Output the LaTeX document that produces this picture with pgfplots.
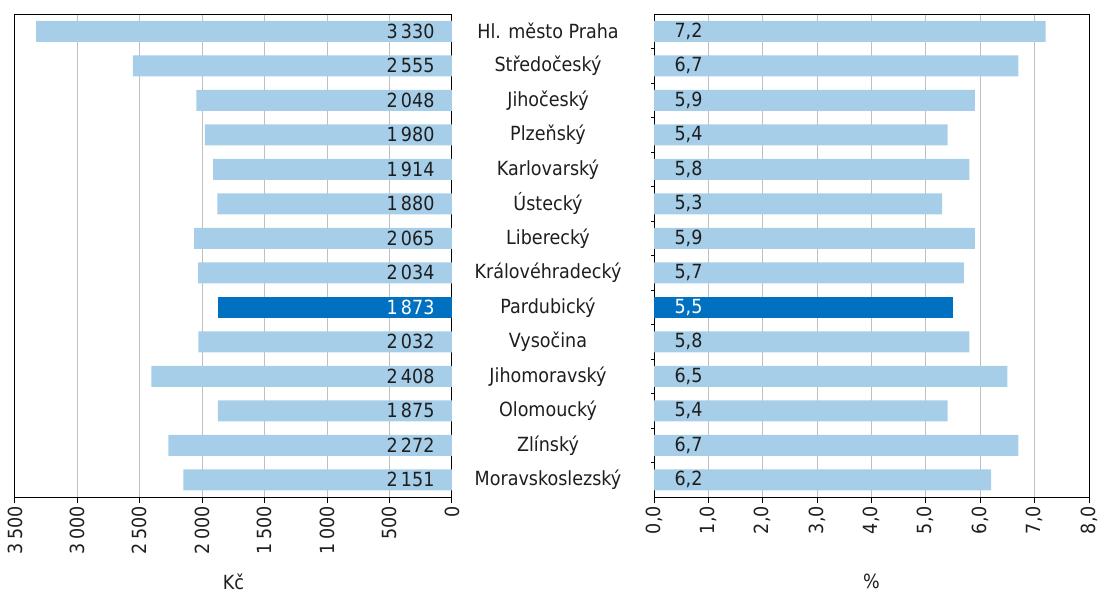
\documentclass[border=0pt]{standalone}
\usepackage{fontspec}
\setmainfont{DejaVu Sans Condensed}
\usepackage{pgfplots}
\pgfplotsset{compat=1.18}
\usepackage{pgfplotstable}
\definecolor{lb}{RGB}{166,206,233}
\definecolor{db}{RGB}{0,112,192}
\definecolor{gr}{RGB}{191,191,191}
\definecolor{tx}{RGB}{30,30,30}

\pgfplotstableread{
y kc pct
0 3330 7.2
1 2555 6.7
2 2048 5.9
3 1980 5.4
4 1914 5.8
5 1880 5.3
6 2065 5.9
7 2034 5.7
9 2032 5.8
10 2408 6.5
11 1875 5.4
12 2272 6.7
13 2151 6.2
}\data
\pgfplotstableread{
y kc pct
8 1873 5.5
}\hl

\begin{document}
\begin{tikzpicture}[font=\fontsize{19.5bp}{23bp}\selectfont]
\useasboundingbox (0,0) rectangle (1103bp,596bp);
\pgfplotsset{
 common/.style={
  scale only axis, height=483bp,
  y dir=reverse, ymin=-0.5, ymax=13.5,
  axis line style={black, line width=1bp},
  xmajorgrids, grid style={gr, line width=1bp},
  xtick pos=bottom, tick align=outside, major tick length=6bp,
  tick style={black, line width=1bp},
  xticklabel style={rotate=90, anchor=east, text=tx, inner sep=3bp},
  /pgf/number format/assume math mode=true,
  every axis x label/.style={at={(axis description cs:0.5,0)}, anchor=north, yshift=-73bp, text=tx},
  anchor=south west,
 }
}
\begin{axis}[common, at={(15bp,99bp)}, width=437bp,
  x dir=reverse, xmin=0, xmax=3500, xtick={0,500,...,3500},
  /pgf/number format/1000 sep={\,},
  xlabel={Kč},
  ytick={0,...,13},
  yticklabels={Hl. město Praha, Středočeský, Jihočeský, Plzeňský, Karlovarský, Ústecký, Liberecký, Královéhradecký, Pardubický, Vysočina, Jihomoravský, Olomoucký, Zlínský, Moravskoslezský},
  yticklabel pos=right, ytick style={draw=none},
  yticklabel style={anchor=center, xshift=90bp, text=tx},
]
\addplot[xbar, bar width=21bp, bar shift=0pt, fill=lb, draw=none] table[x=kc, y=y]{\data};
\addplot[xbar, bar width=21bp, bar shift=0pt, fill=db, draw=none] table[x=kc, y=y]{\hl};
\addplot[draw=none, mark=none, nodes near coords, point meta=explicit,
  nodes near coords style={anchor=east, xshift=-14bp, text=tx}]
  table[x expr=0, y=y, meta=kc]{\data};
\addplot[draw=none, mark=none, nodes near coords, point meta=explicit,
  nodes near coords style={anchor=east, xshift=-14bp, text=white}]
  table[x expr=0, y=y, meta=kc]{\hl};
\end{axis}

\begin{axis}[common, at={(654bp,99bp)}, width=435bp,
  xmin=0, xmax=8, xtick={0,1,...,8},
  /pgf/number format/.cd, fixed, fixed zerofill, precision=1, use comma,
  /pgfplots/.cd,
  xlabel={\%},
  ytick={0.5,1.5,...,12.5}, yticklabels={}, ytick pos=left,
  ytick style={/pgfplots/major tick length=3bp},
]
\addplot[xbar, bar width=21bp, bar shift=0pt, fill=lb, draw=none] table[x=pct, y=y]{\data};
\addplot[xbar, bar width=21bp, bar shift=0pt, fill=db, draw=none] table[x=pct, y=y]{\hl};
\addplot[draw=none, mark=none, nodes near coords, point meta=explicit,
  nodes near coords style={anchor=west, xshift=17bp, text=tx}]
  table[x expr=0, y=y, meta=pct]{\data};
\addplot[draw=none, mark=none, nodes near coords, point meta=explicit,
  nodes near coords style={anchor=west, xshift=17bp, text=white}]
  table[x expr=0, y=y, meta=pct]{\hl};
\end{axis}
\end{tikzpicture}
\end{document}
